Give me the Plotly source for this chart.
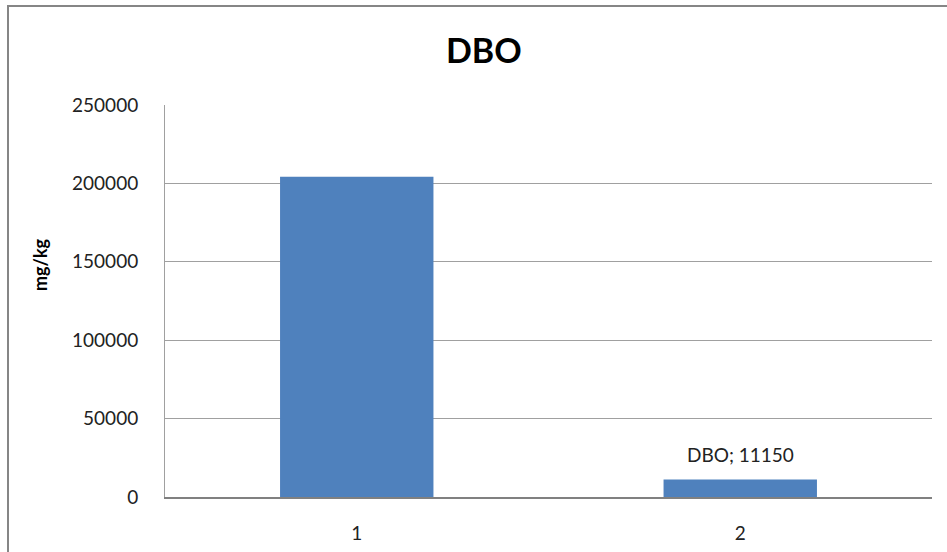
import plotly.graph_objects as go

categories = ["1", "2"]
values = [204300, 11150]
series_name = "DBO"
label_index = 1
label_text = "DBO; 11150"
y_ticks = [0, 50000, 100000, 150000, 200000, 250000]
y_ticktext = ["0", "50000", "100000", "150000", "200000", "250000"]

W, H = 947, 552
L, R, T, B = 165, 15, 105, 55
pw, ph = W - L - R, H - T - B

font = "Lato, Liberation Sans, sans-serif"

fig = go.Figure()
fig.add_trace(go.Bar(
    x=categories, y=values, name=series_name,
    marker=dict(color="#4F81BD", line=dict(width=0)),
))

fig.update_layout(
    width=W, height=H,
    margin=dict(l=L, r=R, t=T, b=B),
    paper_bgcolor="white", plot_bgcolor="white",
    showlegend=False, bargap=0.6,
    font=dict(family=font, size=19, color="#222222"),
    xaxis=dict(type="category", range=[-0.5, 1.5], showgrid=False, showline=True,
               linecolor="#808080", linewidth=1.5, ticks="", tickfont=dict(size=19),
               ticklabelstandoff=18, automargin=False),
    yaxis=dict(range=[0, 250000], tickvals=y_ticks, ticktext=y_ticktext, showgrid=True,
               gridcolor="#A0A0A0", gridwidth=1, showline=True, linecolor="#A0A0A0",
               linewidth=1, zeroline=False, ticks="", tickfont=dict(size=19),
               ticklabelstandoff=22, automargin=False),
    annotations=[
        dict(text=label_text, x=label_index, y=values[label_index],
             xref="x", yref="y", showarrow=False, yanchor="bottom", yshift=12,
             font=dict(size=19, family=font, color="#222222")),
        dict(text="<b>DBO</b>", xref="paper", yref="paper",
             x=(484 - L) / pw, y=1 + (T - 50) / ph, showarrow=False,
             font=dict(size=34, family=font, color="#000000"),
             xanchor="center", yanchor="middle"),
        dict(text="<b>mg/kg</b>", xref="paper", yref="paper",
             x=(40 - L) / pw, y=(H - B - 265) / ph, showarrow=False, textangle=-90,
             font=dict(size=18, family=font, color="#000000"),
             xanchor="center", yanchor="middle"),
    ],
    shapes=[
        dict(type="rect", xref="paper", yref="paper",
             x0=(8 - L) / pw, y0=-0.3, x1=1.1, y1=1 + (T - 6) / ph,
             line=dict(color="#868686", width=2), fillcolor="rgba(0,0,0,0)", layer="below"),
    ],
)

fig.write_html("out.html")
